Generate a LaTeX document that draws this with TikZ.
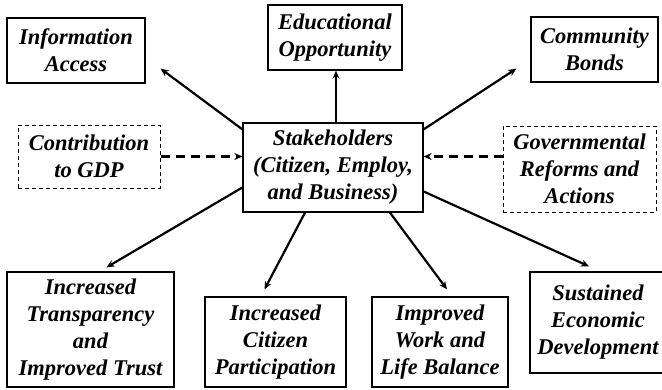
\documentclass[tikz,border=0pt]{standalone}
\usepackage{fontspec}
\setmainfont{Liberation Serif}
\usetikzlibrary{arrows.meta}
\begin{document}
\begin{tikzpicture}[x=1pt,y=-1pt]
	\tikzset{
		box/.style={draw,line width=1.3pt,align=center,inner sep=0pt,
			font=\fontsize{22.5}{27}\selectfont\rmfamily\bfseries\itshape},
		dashed box/.style={box,line width=1pt,dash pattern=on 4pt off 3pt},
		link/.style={line width=2.2pt,-{Stealth[length=8pt,width=7pt]}},
		dashed link/.style={link,dash pattern=on 9pt off 6pt}
	}
	\useasboundingbox[fill=white](0,0)rectangle(662,389);
	% centre
	\node(stake)[box,minimum width=180pt,minimum height=89pt]at(333,167.5)
		{Stakeholders\\(Citizen, Employ,\\and Business)};
	% upper row
	\node(info)[box,minimum width=138pt,minimum height=65pt]at(76,50.5)
		{Information\\Access};
	\node(edu)[box,minimum width=134pt,minimum height=65pt]at(335,37.5)
		{Educational\\Opportunity};
	\node(comm)[box,minimum width=127pt,minimum height=65pt]at(594.5,49.5)
		{Community\\Bonds};
	% inputs
	\node(gdp)[dashed box,minimum width=142pt,minimum height=63pt]at(89,156.5)
		{Contribution\\to GDP};
	\node(gov)[dashed box,minimum width=153pt,minimum height=86pt]at(579.5,169)
		{Governmental\\Reforms and\\Actions};
	% lower row
	\node(trans)[box,minimum width=167pt,minimum height=115pt]at(90.5,329.5)
		{Increased\\Transparency\\and\\Improved Trust};
	\node(part)[box,minimum width=141pt,minimum height=90pt]at(275.5,342)
		{Increased\\Citizen\\Participation};
	\node(work)[box,minimum width=136pt,minimum height=90pt]at(440,342)
		{Improved\\Work and\\Life Balance};
	\node(sust)[box,minimum width=136pt,minimum height=101pt]at(598,322.5)
		{Sustained\\Economic\\Development};
	% outgoing arrows
	\draw[link]([yshift=-7pt]stake.north west)to([xshift=15pt,yshift=15pt]info.south east);
	\draw[link]([xshift=3pt]stake.north)to([xshift=3pt]stake.north|-edu.south);
	\draw[link]([yshift=-7pt]stake.north east)to([xshift=-14pt,yshift=14pt]comm.south west);
	\draw[link]([yshift=-20pt]stake.west)to([xshift=16pt,yshift=4pt]trans.north);
	\draw[link]([xshift=-28pt]stake.south)to([xshift=-11pt,yshift=7pt]part.north);
	\draw[link]([xshift=57pt]stake.south)to([xshift=7pt,yshift=7pt]work.north);
	\draw[link]([yshift=-24pt]stake.east)to([xshift=-9pt,yshift=5pt]sust.north);
	% incoming arrows
	\draw[dashed link](gdp.east)to(gdp.east-|stake.west);
	\draw[dashed link](gov.west|-gdp.east)to(stake.east|-gdp.east);
\end{tikzpicture}
\end{document}
